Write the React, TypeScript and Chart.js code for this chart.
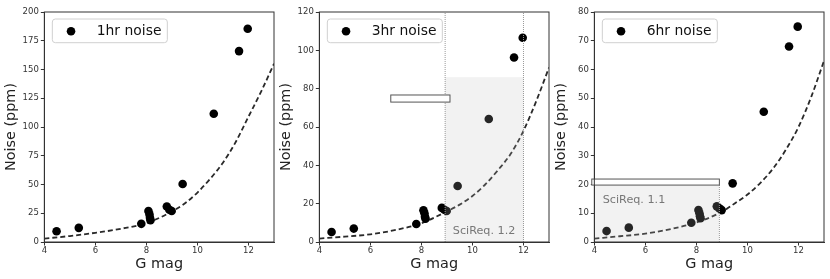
import React, { useEffect, useRef } from "react";
import { Chart, registerables } from "chart.js";
Chart.register(...registerables);

const FONT = "'DejaVu Sans', sans-serif";

// Star magnitudes (G mag) and measured noise per time bin
const gmag = [4.48, 5.35, 7.8, 8.08, 8.12, 8.14, 8.16, 8.8, 8.9, 8.99, 9.42, 10.64, 11.63, 11.97];
const noise1hr = [9.3, 12.3, 15.8, 27.0, 24.0, 21.0, 19.0, 30.8, 28.0, 27.0, 50.5, 111.5, 166.0, 185.5];
const noise3hr = [5.2, 7.0, 9.4, 16.6, 15.0, 13.2, 12.2, 17.8, 16.8, 16.2, 29.2, 64.2, 96.3, 106.6];
const noise6hr = [3.8, 5.0, 6.7, 11.1, 10.0, 9.0, 8.3, 12.4, 11.7, 11.1, 20.4, 45.3, 68.0, 74.9];

// Model (dashed) curve
const modelMag = [4, 5, 6, 7, 8, 9, 9.5, 10, 10.5, 11, 11.5, 12, 12.5, 13];
const model1hr = [3.0, 5.2, 8.0, 11.5, 16.5, 26.5, 33.5, 43, 55, 69, 87, 109, 131, 155];
const model3hr = [1.8, 2.8, 4.0, 6.3, 9.8, 16.0, 19.5, 24.0, 30.0, 37.5, 46.0, 58.0, 73.5, 91.0];
const model6hr = [1.2, 2.0, 2.9, 4.5, 6.8, 10.5, 13.4, 16.5, 20.5, 25.5, 32.0, 40.0, 50.5, 63.0];

// Tick labels
const xTicks = [4, 6, 8, 10, 12];
const yTicks1hr = [0, 25, 50, 75, 100, 125, 150, 175, 200];
const yTicks3hr = [0, 20, 40, 60, 80, 100, 120];
const yTicks6hr = [0, 10, 20, 30, 40, 50, 60, 70, 80];

// Requirement regions: [xFrom, xTo, yFrom, yTo]
const shade3hr = [8.93, 12.0, 0, 86];
const vlines3hr = [8.93, 12.0];
const box3hr = [6.8, 9.12, 73.0, 76.7];
const note3hr = "SciReq. 1.2";
const notePos3hr = [9.23, 4.0];

const shade6hr = [4, 8.9, 0, 19.8];
const vlines6hr = [8.9];
const box6hr = [3.9, 8.9, 19.8, 21.9];
const note6hr = "SciReq. 1.1";
const notePos6hr = [4.33, 13.7];

const framePlugin = {
  id: "frame",
  afterDraw(chart: any) {
    const { ctx, chartArea: a } = chart;
    ctx.save();
    ctx.strokeStyle = "#333";
    ctx.lineWidth = 1;
    ctx.strokeRect(a.left, a.top, a.right - a.left, a.bottom - a.top);
    ctx.restore();
  },
};

const sciReqPlugin = {
  id: "sciReq",
  afterDatasetsDraw(chart: any, _args: any, opts: any) {
    if (!opts || !opts.shade) return;
    const { ctx, chartArea: a } = chart;
    const xs = chart.scales.x;
    const ys = chart.scales.y;
    ctx.save();
    const [sx0, sx1, sy0, sy1] = opts.shade;
    const px0 = xs.getPixelForValue(sx0);
    const px1 = xs.getPixelForValue(sx1);
    const py0 = ys.getPixelForValue(sy0);
    const py1 = ys.getPixelForValue(sy1);
    ctx.fillStyle = "rgba(190,190,190,0.2)";
    ctx.fillRect(px0, py1, px1 - px0, py0 - py1);
    ctx.strokeStyle = "#999";
    ctx.lineWidth = 1;
    ctx.setLineDash([1, 1]);
    for (const v of opts.vlines) {
      const x = xs.getPixelForValue(v);
      const top = opts.vlineFull ? a.top : py1;
      ctx.beginPath();
      ctx.moveTo(x, a.bottom);
      ctx.lineTo(x, top);
      ctx.stroke();
    }
    ctx.setLineDash([]);
    const [bx0, bx1, by0, by1] = opts.box;
    const qx0 = xs.getPixelForValue(bx0);
    const qx1 = xs.getPixelForValue(bx1);
    const qy0 = ys.getPixelForValue(by0);
    const qy1 = ys.getPixelForValue(by1);
    ctx.fillStyle = "#fff";
    ctx.fillRect(qx0, qy1, qx1 - qx0, qy0 - qy1);
    ctx.strokeStyle = "#555";
    ctx.strokeRect(qx0, qy1, qx1 - qx0, qy0 - qy1);
    ctx.fillStyle = "#777";
    ctx.font = `11.2px ${FONT}`;
    ctx.textBaseline = "alphabetic";
    ctx.textAlign = "left";
    ctx.fillText(opts.note, xs.getPixelForValue(opts.notePos[0]), ys.getPixelForValue(opts.notePos[1]));
    ctx.restore();
  },
};

const legendPlugin = {
  id: "noiseLegend",
  afterDraw(chart: any) {
    const { ctx, chartArea: a } = chart;
    const label = chart.data.datasets[0].label;
    const x = a.left + 8;
    const y = a.top + 7;
    const w = 115;
    const h = 23.7;
    const r = 3;
    ctx.save();
    ctx.beginPath();
    ctx.moveTo(x + r, y);
    ctx.lineTo(x + w - r, y);
    ctx.arcTo(x + w, y, x + w, y + r, r);
    ctx.lineTo(x + w, y + h - r);
    ctx.arcTo(x + w, y + h, x + w - r, y + h, r);
    ctx.lineTo(x + r, y + h);
    ctx.arcTo(x, y + h, x, y + h - r, r);
    ctx.lineTo(x, y + r);
    ctx.arcTo(x, y, x + r, y, r);
    ctx.closePath();
    ctx.fillStyle = "rgba(255,255,255,0.8)";
    ctx.fill();
    ctx.strokeStyle = "#d0d0d0";
    ctx.lineWidth = 1;
    ctx.stroke();
    ctx.beginPath();
    ctx.arc(x + 18.7, y + 12.3, 4.3, 0, Math.PI * 2);
    ctx.fillStyle = "#000";
    ctx.fill();
    ctx.fillStyle = "#111";
    ctx.font = `13.9px ${FONT}`;
    ctx.textBaseline = "alphabetic";
    ctx.textAlign = "left";
    ctx.fillText(label, x + 44.4, y + 15.7);
    ctx.restore();
  },
};

type PanelProps = {
  left: number;
  label: string;
  noise: number[];
  model: number[];
  yMax: number;
  yTicks: number[];
  req?: any;
};

function Panel({ left, label, noise, model, yMax, yTicks, req }: PanelProps) {
  const ref = useRef<HTMLCanvasElement>(null);
  useEffect(() => {
    const tickFont = { family: FONT, size: 8.5 };
    const chart = new Chart(ref.current as HTMLCanvasElement, {
      type: "scatter",
      data: {
        datasets: [
          {
            label,
            data: gmag.map((x, i) => ({ x, y: noise[i] })),
            backgroundColor: "#000",
            borderColor: "#000",
            pointRadius: 4.3,
            pointBorderWidth: 0,
            showLine: false,
            order: 1,
          } as any,
          {
            label: "model",
            data: modelMag.map((x, i) => ({ x, y: model[i] })),
            showLine: true,
            borderColor: "#2a2a2a",
            borderWidth: 1.8,
            borderDash: [5, 3],
            pointRadius: 0,
            cubicInterpolationMode: "monotone",
            fill: false,
            order: 2,
          } as any,
        ],
      },
      options: {
        responsive: false,
        animation: false,
        events: [],
        layout: { padding: { top: 12, right: 6, left: 0, bottom: 0 } },
        plugins: {
          legend: { display: false },
          tooltip: { enabled: false },
          sciReq: req || {},
        } as any,
        scales: {
          x: {
            type: "linear",
            min: 4,
            max: 13,
            afterBuildTicks: (s: any) => {
              s.ticks = xTicks.map((v) => ({ value: v }));
            },
            afterFit: (s: any) => {
              s.height = 37;
            },
            grid: { display: true, drawOnChartArea: false, drawTicks: true, tickLength: 3.5, color: "#333", lineWidth: 1 },
            border: { display: true, color: "#333", width: 1 },
            ticks: { color: "#333", font: tickFont, padding: 0.5, maxRotation: 0, autoSkip: false },
            title: { display: true, text: "G mag", color: "#222", font: { family: FONT, size: 14.4 }, padding: { top: 0, bottom: 6.4 } },
          },
          y: {
            type: "linear",
            min: 0,
            max: yMax,
            afterBuildTicks: (s: any) => {
              s.ticks = yTicks.map((v) => ({ value: v }));
            },
            afterFit: (s: any) => {
              s.width = 44.33;
            },
            grid: { display: true, drawOnChartArea: false, drawTicks: true, tickLength: 3.5, color: "#333", lineWidth: 1 },
            border: { display: true, color: "#333", width: 1 },
            ticks: { color: "#333", font: tickFont, padding: 2, autoSkip: false },
            title: { display: true, text: "Noise (ppm)", color: "#222", font: { family: FONT, size: 14.4 }, padding: { top: 2.8, bottom: 0 } },
          },
        },
      } as any,
      plugins: [sciReqPlugin, framePlugin, legendPlugin],
    });
    return () => chart.destroy();
  }, []);
  return <canvas ref={ref} width={280} height={279} style={{ position: "absolute", left, top: 0 }} />;
}

export default function App() {
  return (
    <div style={{ position: "absolute", left: 0, top: 0, width: 830, height: 279, background: "#fff", overflow: "hidden" }}>
      <Panel left={0} label="1hr noise" noise={noise1hr} model={model1hr} yMax={200} yTicks={yTicks1hr} />
      <Panel
        left={275}
        label="3hr noise"
        noise={noise3hr}
        model={model3hr}
        yMax={120}
        yTicks={yTicks3hr}
        req={{ shade: shade3hr, vlines: vlines3hr, vlineFull: true, box: box3hr, note: note3hr, notePos: notePos3hr }}
      />
      <Panel
        left={550}
        label="6hr noise"
        noise={noise6hr}
        model={model6hr}
        yMax={80}
        yTicks={yTicks6hr}
        req={{ shade: shade6hr, vlines: vlines6hr, vlineFull: false, box: box6hr, note: note6hr, notePos: notePos6hr }}
      />
    </div>
  );
}
